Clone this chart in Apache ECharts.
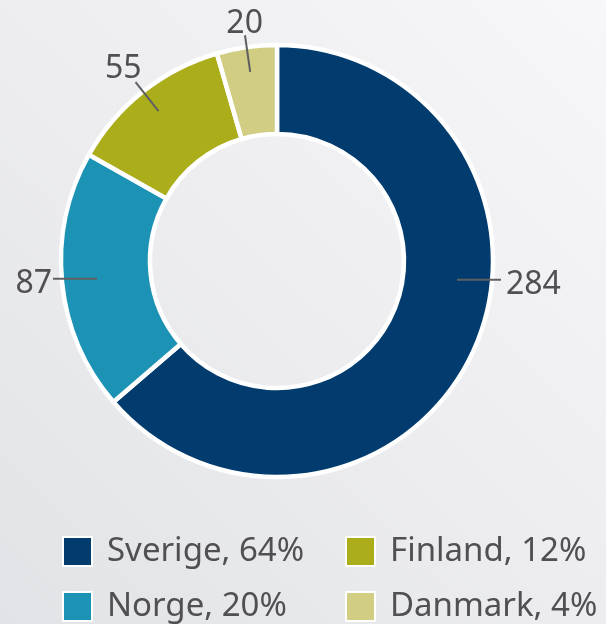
<!DOCTYPE html>
<html>
<head>
<meta charset="utf-8">
<script src="https://cdn.jsdelivr.net/npm/echarts@6/dist/echarts.min.js"></script>
<style>
  html, body { margin: 0; padding: 0; }
  #chart { width: 606px; height: 624px; }
</style>
</head>
<body>
<div id="chart"></div>
<script>
// data
const categories = ["Sverige", "Norge", "Finland", "Danmark"];
const values = [284, 87, 55, 20];
const colors = ["#023c6f", "#1c93b5", "#abad1b", "#d1ce83"];

const total = values.reduce((a, b) => a + b, 0);
const pct = (name) => Math.round((values[categories.indexOf(name)] / total) * 100);

// layout
const cx = 277, cy = 261;
const rIn = 127, rOut = 216;
const font = "'Noto Sans', Roboto, sans-serif";
const textColor = "#505052";

// mid angle of every slice, degrees clockwise from 12 o'clock
let acc = 0;
const midDeg = values.map((v) => {
  const m = ((acc + v / 2) / total) * 360;
  acc += v;
  return m;
});
// the big slice keeps its label on the right side, next to the 3 o'clock line
const labelDeg = midDeg.slice();
labelDeg[0] = 96;

const legendBase = {
  orient: "vertical",
  top: 535,
  height: 150,
  padding: 0,
  itemWidth: 29,
  itemHeight: 29,
  itemGap: 22,
  icon: "rect",
  formatter: (name) => name + ", " + pct(name) + "%",
  textStyle: { fontSize: 33, lineHeight: 29, color: textColor, fontFamily: font, padding: [0, 0, 0, 10] },
};

const pieData = categories.map((name, i) => ({ name: name, value: values[i] }));

const chart = echarts.init(document.getElementById("chart"));

chart.setOption({
  animation: false,
  backgroundColor: {
    type: "linear", x: 0, y: 1, x2: 1, y2: 0,
    colorStops: [
      { offset: 0, color: "#e2e3e6" },
      { offset: 1, color: "#f7f7f9" },
    ],
  },
  color: colors,
  legend: [
    Object.assign({}, legendBase, { data: ["Sverige", "Norge"], left: 62 }),
    Object.assign({}, legendBase, { data: ["Finland", "Danmark"], left: 345 }),
  ],
  series: [
    {
      // the ring itself
      type: "pie",
      z: 2,
      center: [cx, cy],
      radius: [rIn, rOut],
      startAngle: 90,
      clockwise: true,
      emphasis: { disabled: true },
      itemStyle: { borderColor: "#ffffff", borderWidth: 4.5 },
      label: { show: false },
      labelLine: { show: false },
      data: pieData,
    },
    {
      // same slices, invisible, only to carry the value labels above the ring
      type: "pie",
      z: 3,
      silent: true,
      center: [cx, cy],
      radius: [rIn, rOut],
      startAngle: 90,
      clockwise: true,
      emphasis: { disabled: true },
      itemStyle: { color: "rgba(0,0,0,0)", borderWidth: 0 },
      label: {
        show: true,
        position: "outside",
        formatter: "{c}",
        fontSize: 32,
        lineHeight: 26,
        fontFamily: font,
        color: textColor,
      },
      labelLine: {
        show: true,
        length: 10,
        length2: 0,
        lineStyle: { color: "#5f5f62", width: 2 },
      },
      labelLayout: (p) => {
        const a = (labelDeg[p.dataIndex] * Math.PI) / 180;
        const sx = Math.sin(a), sy = -Math.cos(a);
        let start, end, dir;
        if (Math.abs(sy) < 0.26) {
          // near horizontal: straight line out to the side
          const r0 = rOut - 36;
          dir = [sx > 0 ? 1 : -1, 0];
          start = [cx + dir[0] * r0, cy + r0 * sy];
          end = [cx + dir[0] * (rOut + 8), start[1]];
        } else {
          const r0 = rOut - 25, r1 = rOut + 12;
          dir = [sx, sy];
          start = [cx + r0 * sx, cy + r0 * sy];
          end = [cx + r1 * sx, cy + r1 * sy];
        }
        const w = p.labelRect.width, h = p.labelRect.height;
        const off = Math.abs(dir[0]) * w / 2 + Math.abs(dir[1]) * (h / 2 - 5) + 3;
        return {
          x: end[0] + dir[0] * off + 2,
          y: end[1] + dir[1] * off + 5,
          align: "center",
          verticalAlign: "middle",
          labelLinePoints: [start, end, end],
        };
      },
      data: pieData,
    },
  ],
});
</script>
</body>
</html>
